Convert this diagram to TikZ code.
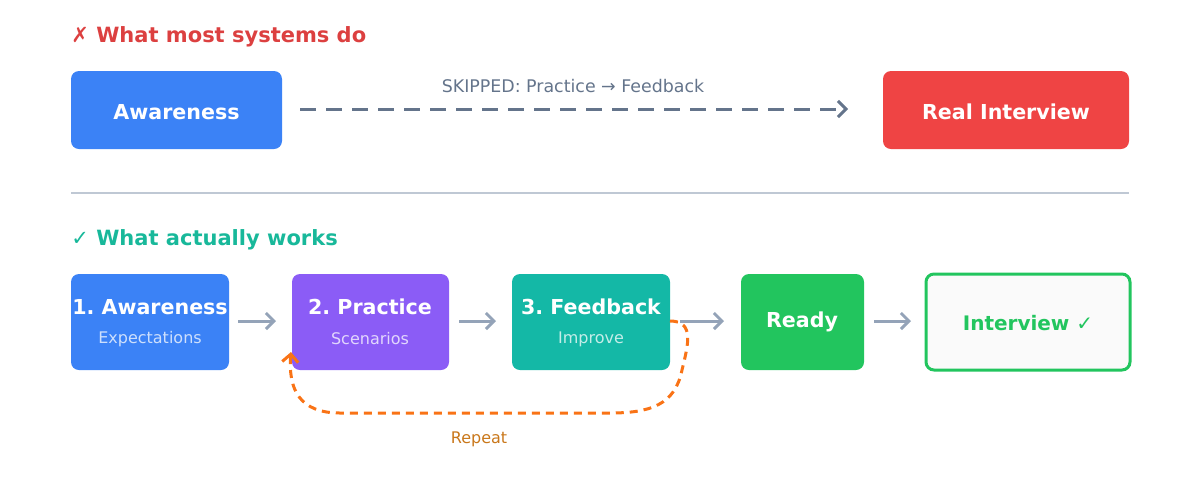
\documentclass[tikz,border=0pt]{standalone}
\usepackage{fontspec}
\setmainfont{DejaVu Sans}
\usetikzlibrary{arrows.meta}
\definecolor{cblue}{HTML}{3B82F6}
\definecolor{cred}{HTML}{EF4444}
\definecolor{cpurple}{HTML}{8B5CF6}
\definecolor{cteal}{HTML}{14B8A6}
\definecolor{cgreen}{HTML}{22C55E}
\definecolor{cslate}{HTML}{64748B}
\definecolor{cgray}{HTML}{94A3B8}
\definecolor{corange}{HTML}{F97316}
\definecolor{ctitlered}{HTML}{DC4040}
\definecolor{ctitleteal}{HTML}{18B89A}
\definecolor{crepeat}{HTML}{C9771A}
\frenchspacing
\begin{document}
\begin{tikzpicture}[x=0.5pt,y=-0.5pt,
 title/.style={anchor=west,inner sep=0pt,font=\fontsize{10.5}{12}\selectfont\bfseries},
 big/.style={font=\fontsize{10.3}{12}\selectfont\bfseries,text=white},
 sub/.style={font=\fontsize{8}{10}\selectfont,text=white,opacity=0.75},
 arr/.style={-{Straight Barb[length=4pt,width=8pt]},line width=1.5pt,draw=cgray}]
\useasboundingbox (0,0) rectangle (1200,494);
\node[title,text=ctitlered] (t1) at (71,37) {✗ What most systems do};
\fill[cblue,rounded corners=4pt] (71,71) rectangle (282,149);
\node[big] (aw) at (176.5,112) {Awareness};
\fill[cred,rounded corners=4pt] (883,71) rectangle (1129,149);
\node[big] (ri) at (1006,112) {Real Interview};
\coordinate (d1) at (300,109); \coordinate (d2) at (848,109);
\draw[cslate,line width=1.5pt,dash pattern=on 8pt off 5pt,-{Straight Barb[length=4pt,width=8pt]}] (d1) -- (d2);
\node[font=\fontsize{8.7}{10}\selectfont,text=cslate] (sk) at (573,86) {SKIPPED: Practice → Feedback};
\draw[draw=cgray!60,line width=0.8pt] (71,193) -- (1129,193);
\node[title,text=ctitleteal] (t2) at (71,240) {✓ What actually works};
\fill[cblue,rounded corners=4pt] (71,274) rectangle (229,370);
\node[big] (b1) at (150,307) {1. Awareness};
\node[sub] (s1) at (150,339) {Expectations};
\fill[cpurple,rounded corners=4pt] (292,274) rectangle (449,370);
\node[big] (b2) at (370,307) {2. Practice};
\node[sub] (s2) at (370,339) {Scenarios};
\fill[cteal,rounded corners=4pt] (512,274) rectangle (670,370);
\node[big] (b3) at (591,307) {3. Feedback};
\node[sub] (s3) at (591,339) {Improve};
\fill[cgreen,rounded corners=4pt] (741,274) rectangle (864,370);
\node[big] (b4) at (802,322) {Ready};
\draw[cgreen,fill=gray!4,line width=1.5pt,rounded corners=4pt] (926,274) rectangle (1130,370);
\node[font=\fontsize{10}{12}\selectfont\bfseries,text=cgreen] (b5) at (1028,323) {Interview ✓};
\draw[arr] (238,321) -- (276,321);
\draw[arr] (459,321) -- (496,321);
\draw[arr] (680,321) -- (724,321);
\draw[arr] (874,321) -- (911,321);
\draw[corange,line width=1.5pt,dash pattern=on 4pt off 3pt,-{Straight Barb[length=4pt,width=8pt]}]
 (670,321) .. controls (695,321) and (688,345) .. (682,370)
 .. controls (675,405) and (650,413) .. (610,413)
 -- (340,413) .. controls (300,413) and (288,390) .. (291,352);
\node[font=\fontsize{8}{10}\selectfont,text=crepeat] (rp) at (479,439) {Repeat};
\end{tikzpicture}
\end{document}
